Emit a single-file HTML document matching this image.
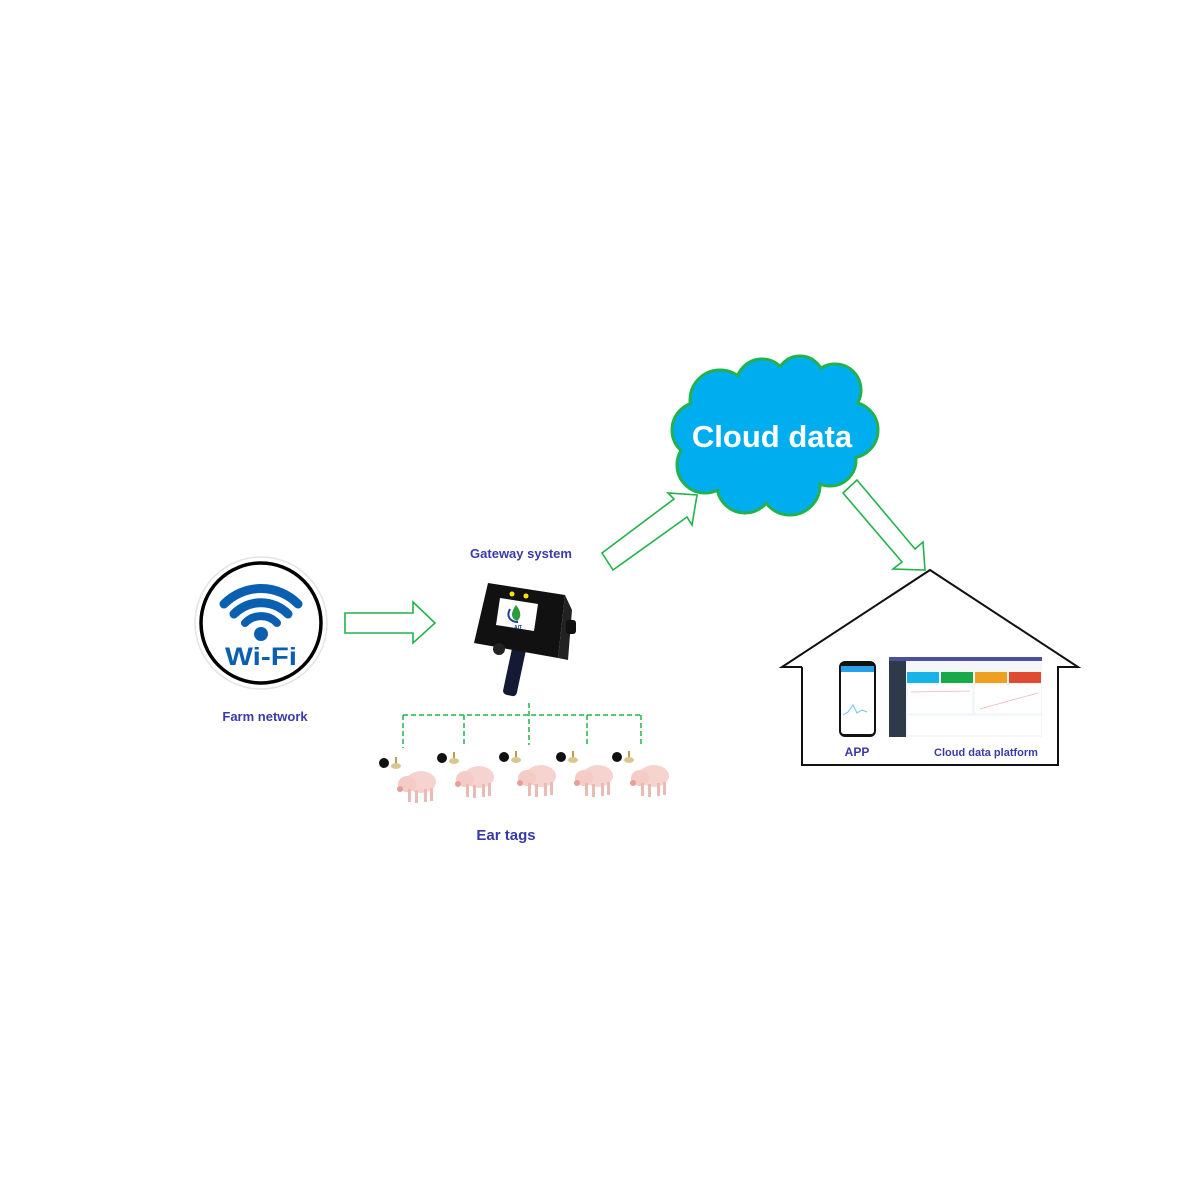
<!DOCTYPE html>
<html><head><meta charset="utf-8"><style>
body{margin:0;background:#fff;}
svg{display:block}
text{font-family:"Liberation Sans","Noto Sans CJK SC",sans-serif;}
</style></head><body>
<svg width="1200" height="1200" viewBox="0 0 1200 1200">
<!-- Wi-Fi -->
<circle cx="261" cy="623" r="66" fill="#fff" stroke="#e4e4e4" stroke-width="1.5"/>
<circle cx="261" cy="623" r="60" fill="#fff" stroke="#000" stroke-width="3.5"/>
<g fill="none" stroke="#0b5fb0" stroke-linecap="round">
<path d="M224 604 A52 52 0 0 1 298 604" stroke-width="9"/>
<path d="M234 614 A38 38 0 0 1 288 614" stroke-width="9"/>
<path d="M245 623 A22 22 0 0 1 277 623" stroke-width="8"/>
</g>
<circle cx="261" cy="634" r="7" fill="#0b5fb0"/>
<text x="261" y="665" text-anchor="middle" font-size="25" font-weight="bold" fill="#0b5fb0" textLength="72" lengthAdjust="spacingAndGlyphs">Wi-Fi</text>
<text x="265" y="721" text-anchor="middle" font-size="13" font-weight="bold" fill="#3a3aa8">Farm network</text>

<!-- right arrow -->
<polygon points="345,613 413,613 413,602 435,623 413,643 413,633 345,633" fill="#fff" stroke="#22b24c" stroke-width="1.6"/>

<!-- gateway -->
<text x="521" y="558" text-anchor="middle" font-size="13" font-weight="bold" fill="#3a3aa8">Gateway system</text>
<rect x="508" y="640" width="14" height="56" rx="4" fill="#141a33" transform="rotate(12 515 668)"/>
<polygon points="488,583 565,595 558,658 474,643" fill="#111"/>
<polygon points="565,595 572,610 568,660 558,658" fill="#222"/>
<rect x="566" y="620" width="10" height="14" rx="3" fill="#111"/>
<polygon points="500,598 538,604 534,631 496,625" fill="#fff"/>
<circle cx="512" cy="594" r="2.5" fill="#ffe600"/><circle cx="526" cy="596" r="2.5" fill="#ffe600"/>
<path d="M516 605 C511 612 510 618 517 621 C522 617 521 611 516 605Z" fill="#2e9b3a"/>
<path d="M510 609 C506 616 510 622 518 622" fill="none" stroke="#1a44a8" stroke-width="2"/>
<text x="514" y="629" font-size="5" font-weight="bold" fill="#1a44a8">AIT</text>
<circle cx="499" cy="649" r="6" fill="#222"/>

<!-- dashed tree -->
<g stroke="#22b24c" stroke-width="1.5" stroke-dasharray="5,3" fill="none">
<path d="M403 715 H641"/><path d="M403 715 V748"/><path d="M464 715 V745"/><path d="M529 703 V745"/><path d="M587 715 V745"/><path d="M641 715 V745"/>
</g>
<!-- pigs -->
<g id="pig">
<circle cx="384" cy="763" r="5" fill="#111"/>
<rect x="395" y="757" width="2" height="8" fill="#b9a050"/><ellipse cx="396" cy="766" rx="5" ry="3" fill="#d8c890"/>
<ellipse cx="421" cy="782" rx="15" ry="11" fill="#f6d3ce"/>
<ellipse cx="407" cy="784" rx="9" ry="8" fill="#f4cbc5"/>
<ellipse cx="400" cy="789" rx="3" ry="3" fill="#e89d98"/>
<rect x="408" y="789" width="3" height="13" fill="#eabab4"/><rect x="415" y="790" width="3" height="13" fill="#eabab4"/>
<rect x="424" y="789" width="3" height="13" fill="#eabab4"/><rect x="430" y="788" width="3" height="13" fill="#eabab4"/>
</g>
<use href="#pig" x="58" y="-5"/><use href="#pig" x="120" y="-6"/><use href="#pig" x="177" y="-6"/><use href="#pig" x="233" y="-6"/>
<text x="506" y="840" text-anchor="middle" font-size="15" font-weight="bold" fill="#3a3aa8">Ear tags</text>

<!-- up arrow -->
<polygon points="602,553 674,499 668,493 697,495 692,525 687,517 613,570" fill="#fff" stroke="#22b24c" stroke-width="1.6"/>
<!-- down arrow -->
<polygon points="843,493 857,480 915,549 923,542 925,570 893,569 902,562" fill="#fff" stroke="#22b24c" stroke-width="1.6"/>

<!-- cloud -->
<g stroke="#22b24c" stroke-width="3" fill="#00aeef">
<circle cx="720" cy="400" r="30"/><circle cx="762" cy="385" r="26"/><circle cx="800" cy="380" r="24"/>
<circle cx="835" cy="390" r="26"/><circle cx="850" cy="430" r="28"/><circle cx="830" cy="460" r="26"/>
<circle cx="700" cy="430" r="28"/><circle cx="705" cy="465" r="28"/><circle cx="745" cy="485" r="28"/><circle cx="790" cy="485" r="30"/>
</g>
<g fill="#00aeef">
<circle cx="720" cy="400" r="28.5"/><circle cx="762" cy="385" r="24.5"/><circle cx="800" cy="380" r="22.5"/>
<circle cx="835" cy="390" r="24.5"/><circle cx="850" cy="430" r="26.5"/><circle cx="830" cy="460" r="24.5"/>
<circle cx="700" cy="430" r="26.5"/><circle cx="705" cy="465" r="26.5"/><circle cx="745" cy="485" r="26.5"/><circle cx="790" cy="485" r="28.5"/>
<rect x="710" y="380" width="130" height="100"/>
</g>
<text x="772" y="447" text-anchor="middle" font-size="31" font-weight="bold" fill="#fff">Cloud data</text>

<!-- house -->
<polyline points="802,667 782,667 930,570 1078,667 1058,667 1058,765 802,765 802,667" fill="#fff" stroke="#111" stroke-width="2"/>
<!-- phone -->
<rect x="839" y="661" width="37" height="76" rx="6" fill="#111"/>
<rect x="841" y="666" width="33" height="68" rx="3" fill="#fff"/>
<rect x="841" y="666" width="33" height="6" fill="#26a0e8"/>
<polyline points="843,715 848,712 853,705 857,713 862,710 867,712" fill="none" stroke="#6cc4ec" stroke-width="1"/>
<!-- platform -->
<rect x="889" y="657" width="153" height="80" fill="#f5f6f8"/>
<rect x="889" y="657" width="153" height="4" fill="#4c4f9c"/>
<rect x="889" y="661" width="17" height="76" fill="#2e3a4a"/>
<rect x="907" y="672" width="32" height="11" fill="#18b4e8"/>
<rect x="941" y="672" width="32" height="11" fill="#1aa94a"/>
<rect x="975" y="672" width="32" height="11" fill="#f0a020"/>
<rect x="1009" y="672" width="32" height="11" fill="#e04a30"/>
<rect x="908" y="685" width="64" height="28" fill="#fff"/><rect x="975" y="685" width="66" height="28" fill="#fff"/>
<line x1="911" y1="692" x2="970" y2="691" stroke="#f0b0b0" stroke-width="0.7"/>
<line x1="980" y1="709" x2="1038" y2="693" stroke="#f0b0b0" stroke-width="0.7"/>
<rect x="908" y="716" width="133" height="19" fill="#fff"/>
<text x="857" y="756" text-anchor="middle" font-size="12" font-weight="bold" fill="#3a3aa8">APP</text>
<text x="986" y="756" text-anchor="middle" font-size="11" font-weight="bold" fill="#3a3aa8">Cloud data platform</text>
</svg>
</body></html>
